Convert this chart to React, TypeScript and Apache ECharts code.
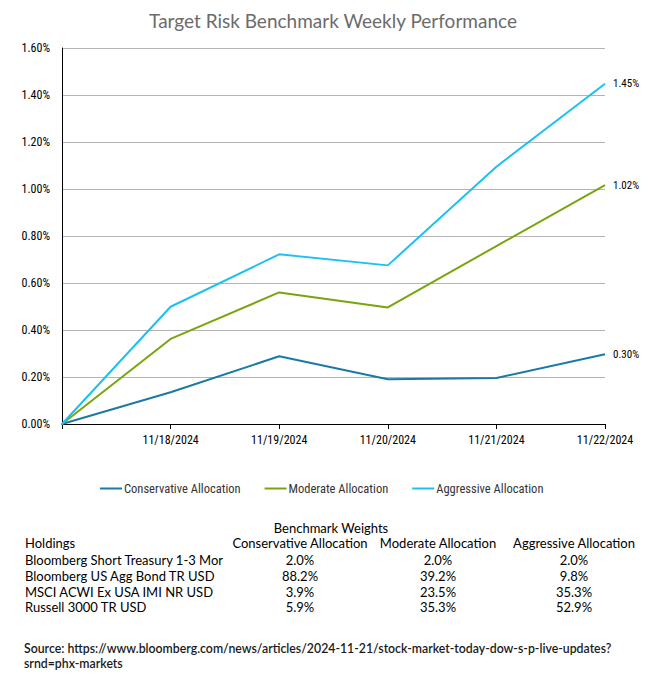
import React, { useEffect, useRef } from "react";
import * as echarts from "echarts";

const categories = ["", "11/18/2024", "11/19/2024", "11/20/2024", "11/21/2024", "11/22/2024"];
const conservative = [0, 0.135, 0.288, 0.19, 0.196, 0.297];
const moderate = [0, 0.362, 0.56, 0.496, 0.757, 1.017];
const aggressive = [0, 0.499, 0.722, 0.675, 1.095, 1.448];
const seriesNames = ["Conservative Allocation", "Moderate Allocation", "Aggressive Allocation"];
const seriesColors = ["#1a7aa5", "#7aa40e", "#1cc0f1"];
const yTicks = { min: 0, max: 1.6, interval: 0.2 };

const tableTitle = "Benchmark Weights";
const tableHeader = ["Holdings", "Conservative Allocation", "Moderate Allocation", "Aggressive Allocation"];
const holdings = [
  "Bloomberg Short Treasury 1-3 Mor",
  "Bloomberg US Agg Bond TR USD",
  "MSCI ACWI Ex USA IMI NR USD",
  "Russell 3000 TR USD",
];
const consWeights = ["2.0%", "88.2%", "3.9%", "5.9%"];
const modWeights = ["2.0%", "39.2%", "23.5%", "35.3%"];
const aggWeights = ["2.0%", "9.8%", "35.3%", "52.9%"];
const sourceLines = [
  "Source: https://www.bloomberg.com/news/articles/2024-11-21/stock-market-today-dow-s-p-live-updates?",
  "srnd=phx-markets",
];

const chartFont = "'Liberation Sans Narrow', 'Roboto Condensed', Roboto, sans-serif";
const tableFont = "Lato, 'Open Sans', sans-serif";

export default function App() {
  const ref = useRef<HTMLDivElement>(null);
  useEffect(() => {
    document.body.style.margin = "0";
    if (!ref.current) return;
    const chart = echarts.init(ref.current, null, { renderer: "svg" });
    const seriesData = [conservative, moderate, aggressive];

    const colX = [25, 300, 438, 574];
    const rowY = [560, 576, 592, 607];
    const textStyle = (text: string, align: string, font = `13px ${tableFont}`, fill = "#000") => ({
      text,
      font,
      fill,
      align,
      verticalAlign: "middle",
      lineHeight: 13,
    });
    const graphics: any[] = [];
    graphics.push({ type: "text", x: 331, y: 528, style: textStyle(tableTitle, "center") });
    tableHeader.forEach((h, i) => {
      graphics.push({ type: "text", x: colX[i], y: 543, style: textStyle(h, i === 0 ? "left" : "center") });
    });
    holdings.forEach((h, r) => {
      const cells = [h, consWeights[r], modWeights[r], aggWeights[r]];
      cells.forEach((c, i) => {
        graphics.push({ type: "text", x: colX[i], y: rowY[r], style: textStyle(c, i === 0 ? "left" : "center") });
      });
    });
    sourceLines.forEach((s, i) => {
      graphics.push({
        type: "text",
        x: 24,
        y: 648 + i * 15,
        style: textStyle(s, "left", `600 12.3px ${tableFont}`, "#1a1a1a"),
      });
    });

    chart.setOption({
      animation: false,
      title: {
        text: "Target Risk Benchmark Weekly Performance",
        left: "center",
        top: 6,
        textStyle: { fontFamily: tableFont, fontSize: 19, fontWeight: "normal", color: "#6b6b6b" },
      },
      grid: { left: 62, right: 61, top: 48, bottom: 251, containLabel: false },
      legend: {
        top: 477,
        left: 95,
        itemGap: 24,
        itemWidth: 22,
        itemHeight: 2,
        icon: "rect",
        textStyle: { fontFamily: chartFont, fontSize: 12.5, color: "#333", padding: [0, 0, 0, -3] },
        data: seriesNames,
      },
      xAxis: {
        type: "category",
        data: categories,
        boundaryGap: false,
        axisLine: { lineStyle: { color: "#000", width: 1 } },
        axisTick: { show: true, length: 5, lineStyle: { color: "#000" } },
        axisLabel: { fontFamily: chartFont, fontSize: 12, color: "#000", margin: 10, interval: 0 },
      },
      yAxis: {
        type: "value",
        min: yTicks.min,
        max: yTicks.max,
        interval: yTicks.interval,
        axisLine: { show: true, lineStyle: { color: "#000", width: 1 } },
        axisTick: { show: false },
        splitLine: { lineStyle: { color: "#b4b4b4", width: 1 } },
        axisLabel: {
          fontFamily: chartFont,
          fontSize: 12,
          color: "#000",
          margin: 12,
          formatter: (v: number) => v.toFixed(2) + "%",
        },
      },
      series: seriesNames.map((name, i) => ({
        name,
        type: "line",
        data: seriesData[i],
        symbol: "none",
        color: seriesColors[i],
        lineStyle: { width: 2, color: seriesColors[i] },
        endLabel: {
          show: true,
          distance: 8,
          fontFamily: chartFont,
          fontSize: 11,
          color: "#000",
          formatter: (p: any) => Number(p.value).toFixed(2) + "%",
        },
      })),
      graphic: graphics,
    });
    return () => chart.dispose();
  }, []);
  return <div ref={ref} style={{ width: 666, height: 675 }} />;
}
